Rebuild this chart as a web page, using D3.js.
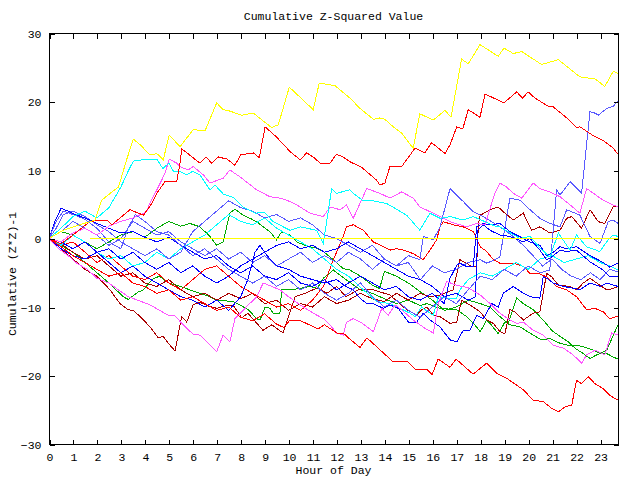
<!DOCTYPE html>
<html><head><meta charset="utf-8">
<script src="https://cdn.jsdelivr.net/npm/d3@7"></script>
<style>
body{margin:0;background:#fff}
svg{display:block}
text{font-family:"Liberation Mono","DejaVu Sans Mono",monospace;font-size:11.5px;fill:#000}
</style>
</head><body><svg id="c" width="640" height="480"></svg>
<script>
const hourTicks = [0,1,2,3,4,5,6,7,8,9,10,11,12,13,14,15,16,17,18,19,20,21,22,23];
const valueTicks = [-30,-20,-10,0,10,20,30];
const titleText = "Cumulative Z-Squared Value";
const xTitle = "Hour of Day";
const yTitle = "Cumulative (Z*Z)-1";

// each series: [hour, cumulative value]
const yellowTop = [[0,0],[0.6,1.2],[1.29,2.0],[1.92,2.7],[2.2,5.6],[2.63,6.8],[2.9,7.5],[3.24,11.5],[3.52,14.5],[3.8,13.7],[4.22,12.2],[4.5,12.4],[4.77,11.5],[5.02,15.1],[5.47,13.4],[6.02,15.9],[6.51,15.7],[7.0,19.8],[7.27,18.8],[7.55,18.6],[8.04,18.0],[8.53,18.3],[9.29,16.2],[9.57,16.6],[10.03,22.1],[11.03,18.8],[11.28,22.7],[11.94,22.3],[12.56,20.5],[12.98,19.0],[13.54,17.4],[13.81,17.6],[14.02,17.4],[14.37,16.3],[14.72,15.4],[14.93,14.4],[15.2,13.2],[15.48,18.2],[16.04,17.3],[16.53,18.7],[16.78,17.7],[17.22,26.2],[17.5,25.5],[17.99,28.3],[18.75,26.6],[18.99,27.8],[19.38,27.0],[19.73,27.3],[20.56,25.4],[21.26,26.1],[22.16,23.6],[22.79,23.3],[23.2,22.2],[23.55,24.4],[23.75,24.1]];
const redTop = [[0,0],[0.5,-0.8],[1,0.5],[1.71,2.5],[2.41,2.7],[2.62,2.0],[3.38,4.2],[3.94,3.4],[4.29,5.1],[4.5,6.6],[4.84,8.3],[5.33,8.3],[5.47,11.0],[5.54,13.1],[6.3,11.0],[6.55,11.9],[6.79,11.0],[7.07,11.9],[7.42,11.6],[7.76,10.7],[8.0,12.2],[8.53,12.5],[8.78,11.8],[9.02,16.3],[9.5,14.8],[10.06,12.7],[10.48,11.5],[10.76,12.5],[11.1,11.7],[11.31,11.0],[11.73,11.0],[12.0,12.3],[12.28,11.9],[12.56,11.2],[13.05,10.4],[13.68,8.5],[13.81,7.8],[14.02,8.1],[14.23,10.5],[14.72,10.5],[15.28,13.2],[15.69,12.5],[15.97,14.0],[16.53,12.4],[16.74,13.7],[17.02,16.3],[17.27,16.0],[17.5,18.8],[17.99,17.7],[18.2,21.1],[18.99,19.8],[19.52,21.4],[19.77,20.5],[20.0,21.4],[20.28,20.5],[20.84,19.3],[21.05,19.2],[21.61,17.6],[22.02,16.2],[22.16,16.3],[22.72,15.0],[23.13,14.3],[23.55,13.2],[23.75,12.3]];
const cyanUp = [[0,0],[0.5,1.5],[1,3.2],[1.5,4.0],[2,3.0],[2.5,4.5],[3,7.5],[3.3,9.8],[3.52,11.3],[3.9,11.5],[4.5,11.6],[4.75,10.2],[5.0,11.0],[5.2,9.8],[5.47,9.8],[5.75,9.3],[6.0,9.8],[6.3,9.3],[6.72,7.1],[6.93,7.8],[7.27,6.5],[7.7,6.0],[8.1,4.6],[8.6,3.7],[9.0,3.8],[9.36,2.45],[10.06,1.2],[10.48,1.7],[11.17,1.2],[11.45,-0.7],[11.8,7.3],[12.0,6.6],[12.56,7.1],[12.7,6.6],[13.12,5.5],[13.54,5.5],[14.1,5.1],[14.93,3.4],[15.48,1.2],[15.9,3.7],[16.32,2.95],[16.74,3.2],[17.29,2.7],[17.71,3.2],[18.69,1.7],[18.82,1.7],[19.66,0],[20.08,0.3],[20.5,-1.4],[20.91,-2.7],[21.26,0.8],[21.75,-1.7],[22.02,0.5],[22.44,-1.2],[22.99,-1.9],[23.34,-0.2],[23.55,0.5],[23.75,0.3]];
const magentaUp = [[0,0],[0.5,-0.5],[1,0.8],[1.5,1.5],[2,0.5],[2.5,1.8],[3,2.5],[3.5,3.0],[4.08,3.9],[4.2,5.1],[4.5,7.1],[4.7,8.5],[4.84,9.5],[5.02,11.6],[5.33,11.0],[5.47,10.5],[5.8,10.0],[6.02,10.5],[6.44,9.3],[6.72,8.1],[7.27,8.8],[7.55,10.0],[7.97,9.0],[8.67,7.1],[9.22,6.1],[9.64,5.9],[10.06,5.4],[10.34,4.9],[10.89,3.7],[11.45,3.2],[11.73,4.6],[12.15,4.2],[12.42,4.9],[12.7,2.95],[13.26,7.3],[13.81,6.6],[14.23,5.9],[14.72,6.8],[15.2,5.9],[15.48,4.6],[16.04,3.7],[16.74,2.45],[17.43,1.7],[17.85,2.2],[18.2,2.0],[18.61,6.6],[18.82,8.1],[19.1,7.5],[19.38,6.6],[19.73,5.9],[20.21,8.1],[20.49,7.3],[20.91,6.8],[21.33,6.1],[21.75,4.9],[22.16,3.7],[22.44,7.3],[22.72,6.6],[23.13,5.6],[23.55,4.9],[23.75,4.6]];
const slateRise = [[0,0],[0.3,2.5],[0.6,4.0],[1,3.5],[1.5,2.8],[2,1.5],[2.5,-0.5],[3,-1.5],[3.3,1.5],[3.6,3.5],[4,2.5],[4.5,1.0],[5,0.5],[5.5,-1.0],[6,-2.5],[6.5,-1.5],[7,-3.0],[7.5,-4.5],[8,-5.5],[8.5,-6.5],[9,-5.5],[9.5,-7.0],[10,-6.0],[10.5,-7.5],[11,-6.5],[11.5,-8.0],[12,-9.0],[12.5,-8.0],[13,-6.5],[13.5,-8.5],[14,-10.0],[14.5,-9.0],[15,-10.5],[15.5,-11.5],[16,-10.0],[16.5,-8.5],[17,-9.5],[17.5,-7.5],[18,-5.5],[18.5,-6.0],[19,-4.5],[19.5,-5.5],[20,-4.0],[20.5,-5.0],[20.9,-4.6],[21.19,7.1],[21.33,6.35],[21.75,8.3],[22.23,6.6],[22.58,18.5],[22.79,18.3],[22.93,18.0],[23.28,19.0],[23.55,19.3],[23.75,20.1]];
const magentaLow = [[0,0],[0.4,-1.5],[0.8,-2.5],[1.15,-3.6],[1.6,-4.5],[2.0,-5.8],[2.5,-6.5],[2.9,-7.5],[3.31,-8.5],[3.7,-9.0],[4.22,-9.7],[4.98,-11.2],[5.26,-11.3],[5.6,-12.6],[6.02,-14.0],[6.3,-14.1],[7.0,-16.5],[7.27,-14.1],[7.55,-15.1],[7.76,-11.7],[8.32,-9.7],[8.67,-8.5],[8.94,-6.5],[9.3,-7.0],[9.64,-7.5],[10.0,-8.5],[10.48,-9.7],[11.03,-10.9],[11.45,-11.7],[11.73,-12.6],[12.0,-13.8],[12.28,-14.1],[12.42,-12.2],[12.7,-11.7],[13.0,-12.2],[13.54,-13.6],[13.89,-10.2],[14.16,-11.2],[14.44,-9.7],[14.72,-10.4],[15.2,-11.9],[15.69,-13.1],[16.04,-13.8],[16.25,-9.5],[16.46,-7.5],[16.6,-6.3],[17.0,-6.8],[17.5,-7.2],[18.0,-8.25],[18.41,-9.5],[18.82,-10.9],[19.24,-11.9],[19.52,-12.4],[19.8,-12.2],[20.21,-13.4],[20.63,-14.1],[21.05,-15.6],[21.47,-16.0],[21.88,-17.0],[22.23,-18.2],[22.44,-17.0],[22.79,-16.3],[23.2,-17.0],[23.48,-13.8],[23.75,-14.1]];
const redLow = [[0,0],[0.5,-1.2],[1,-2.5],[1.5,-3.5],[2,-4.5],[2.5,-5.5],[3,-5.0],[3.5,-6.5],[4,-7.0],[4.5,-8.0],[5,-7.5],[5.5,-9.0],[6,-8.5],[6.5,-9.5],[7,-10.5],[7.5,-10.0],[8,-11.5],[8.5,-12.0],[9,-11.0],[9.5,-12.5],[9.8,-13.0],[10.06,-11.9],[10.5,-12.0],[11.23,-13.2],[11.5,-12.6],[12.02,-13.8],[12.28,-13.8],[12.56,-14.7],[12.98,-15.9],[13.27,-14.5],[14.36,-18.0],[14.98,-18.0],[15.28,-19.1],[15.78,-19.1],[15.99,-19.9],[16.24,-17.6],[16.74,-18.8],[16.99,-17.6],[17.7,-19.8],[18.27,-18.2],[18.69,-19.7],[19.1,-20.4],[19.52,-21.4],[19.8,-22.1],[20.21,-23.6],[20.63,-23.8],[20.98,-24.8],[21.26,-25.3],[21.54,-24.6],[21.82,-24.3],[22.02,-20.7],[22.23,-21.2],[22.51,-20.2],[22.79,-21.2],[23.13,-21.9],[23.41,-22.9],[23.75,-23.6]];
const darkRedLow = [[0,0],[0.5,-1.5],[1,-3.0],[1.5,-4.5],[2,-5.5],[2.55,-7.5],[2.96,-9.5],[3.31,-10.4],[3.52,-10.5],[3.8,-11.4],[4.22,-12.9],[4.56,-14.5],[4.77,-14.3],[4.98,-15.3],[5.26,-16.4],[5.54,-11.4],[5.75,-12.2],[6.01,-9.7],[6.3,-9.3],[6.6,-9.8],[7.0,-10.2],[7.27,-9.9],[7.68,-9.7],[8.05,-11.6],[8.3,-10.9],[8.93,-13.4],[9.3,-12.6],[9.77,-13.8],[10.27,-8.5],[10.7,-8.0],[11.2,-7.2],[11.6,-8.0],[12.0,-7.0],[12.4,-8.5],[12.9,-7.5],[13.54,-7.5],[14.23,-8.25],[14.93,-10.4],[15.35,-11.2],[15.55,-10.4],[15.77,-10.0],[16.04,-11.2],[16.32,-11.4],[16.74,-12.4],[17.02,-12.2],[17.22,-9.0],[17.57,-9.7],[17.99,-10.7],[18.27,-11.9],[18.55,-12.4],[18.82,-13.6],[19.03,-13.9],[19.24,-10.4],[19.45,-10.7],[19.8,-11.9],[20.21,-10.9],[20.49,-10.7],[20.77,-5.1],[20.98,-5.6],[21.26,-6.8],[21.75,-7.0],[22.02,-7.5],[22.3,-6.5],[22.58,-5.8],[22.86,-6.5],[23.28,-7.5],[23.55,-7.3],[23.75,-7.0]];
const darkRedUp = [[0,0],[0.5,-0.8],[1,-2.0],[1.5,-3.0],[2,-2.5],[2.5,-4.0],[3,-5.5],[3.5,-5.0],[4,-6.5],[4.5,-7.0],[5,-6.0],[5.5,-7.5],[6,-8.5],[6.5,-8.0],[7,-9.0],[7.5,-8.0],[8,-8.8],[8.5,-8.0],[9,-9.5],[9.5,-9.0],[10,-10.5],[10.5,-9.5],[11,-10.0],[11.5,-8.5],[12,-9.5],[12.5,-9.0],[13,-8.0],[13.5,-8.8],[14,-9.2],[14.5,-8.0],[15,-9.0],[15.5,-8.0],[15.9,-8.5],[16.32,-8.25],[16.87,-7.5],[17.15,-3.1],[17.43,-3.6],[17.64,-4.1],[17.85,-4.1],[17.92,2.0],[18.0,3.4],[18.41,4.2],[18.75,4.6],[18.96,3.9],[19.38,2.7],[19.8,3.7],[20.14,1.2],[20.49,1.7],[20.91,0.8],[21.33,1.2],[21.61,2.95],[21.82,3.2],[22.23,1.5],[22.58,4.2],[22.93,2.45],[23.2,2.2],[23.55,4.6],[23.75,4.6]];
const redMid = [[0,0],[0.5,-1.0],[1,-0.5],[1.5,-2.0],[2,-3.5],[2.5,-2.5],[3,-4.0],[3.5,-5.5],[4,-6.0],[4.5,-5.0],[5,-6.5],[5.5,-7.5],[6,-6.0],[6.5,-4.5],[7,-4.0],[7.5,-5.5],[8,-7.0],[8.5,-8.0],[9,-9.0],[9.5,-10.0],[10,-9.5],[10.5,-10.5],[11,-9.0],[11.45,-7.0],[11.87,-3.1],[12.28,0.3],[12.42,1.7],[12.7,2.0],[13.12,1.2],[13.54,-0.5],[13.95,-1.2],[14.23,-1.7],[14.51,-1.5],[14.79,-1.7],[15.2,-2.2],[15.62,-3.1],[15.9,-1.7],[16.18,-0.2],[16.32,1.7],[16.46,2.45],[16.87,2.0],[17.29,1.7],[17.71,1.0],[18.0,-1.2],[18.27,-1.9],[18.55,-3.1],[18.82,-3.6],[19.38,-3.6],[19.8,-4.1],[20.08,-5.1],[20.42,-5.1],[20.77,-5.6],[21.19,-7.0],[21.61,-7.5],[22.02,-8.5],[22.44,-10.4],[22.79,-10.2],[23.13,-10.7],[23.41,-11.7],[23.75,-11.3]];
const greenA = [[0,0],[0.5,1.0],[1,0.5],[1.5,-0.5],[2,-1.5],[2.5,-0.5],[3,0.5],[3.5,1.0],[4,0.2],[4.5,1.5],[5,2.5],[5.5,1.8],[5.88,2.2],[6.3,1.7],[6.72,0.3],[7.0,-1.0],[7.27,-0.5],[7.55,3.7],[7.76,4.3],[8.11,3.4],[8.39,2.95],[8.67,2.45],[8.94,1.7],[9.22,1.0],[9.5,-0.2],[9.71,1.0],[10.06,0.5],[10.34,-0.5],[10.61,-0.9],[10.89,-1.2],[11.17,-1.4],[11.45,-1.9],[11.87,-3.1],[12.28,-4.4],[12.56,-4.6],[13.0,-5.5],[13.5,-6.8],[13.8,-7.3],[14.0,-4.8],[14.5,-5.5],[15.0,-6.5],[15.5,-7.8],[16.0,-9.0],[16.5,-10.5],[17.0,-10.0],[17.5,-9.0],[18.0,-9.5],[18.41,-10.0],[18.75,-11.2],[19.17,-12.4],[19.52,-8.7],[19.8,-9.5],[20.21,-10.4],[20.63,-11.9],[20.98,-13.4],[21.33,-14.3],[21.68,-15.1],[21.95,-16.0],[22.3,-16.8],[22.58,-17.5],[22.86,-17.0],[23.28,-16.3],[23.75,-12.6]];
const greenB = [[0,0],[0.5,-1.0],[1,-2.0],[1.5,-3.5],[2,-5.0],[2.5,-6.5],[3.1,-8.5],[3.31,-8.9],[3.73,-7.8],[3.94,-7.5],[4.3,-6.0],[4.6,-5.5],[5.0,-6.5],[5.5,-7.0],[5.88,-7.5],[6.72,-8.5],[7.0,-9.0],[7.69,-9.2],[7.97,-9.7],[8.32,-10.4],[8.67,-11.7],[8.81,-11.9],[9.02,-10.0],[9.22,-10.2],[9.36,-10.9],[9.64,-10.9],[9.71,-7.5],[10.06,-7.5],[10.48,-7.3],[10.89,-7.0],[11.2,-7.3],[11.45,-5.8],[11.87,-4.6],[12.2,-5.5],[12.6,-6.5],[13.0,-7.5],[13.5,-8.0],[14.0,-8.8],[14.5,-9.5],[15.0,-9.0],[15.5,-9.8],[15.77,-9.5],[16.32,-10.2],[17.02,-10.4],[17.43,-11.4],[17.75,-12.5],[18.0,-13.6],[18.27,-11.9],[18.41,-12.4],[18.75,-13.9],[19.03,-12.2],[19.24,-12.6],[19.66,-12.9],[20.21,-14.1],[20.56,-14.8],[20.91,-14.6],[21.33,-15.3],[21.68,-15.6],[22.02,-15.6],[22.3,-15.8],[22.72,-16.3],[23.0,-16.8],[23.28,-16.8],[23.55,-17.3],[23.75,-17.6]];
const blueA = [[0,0],[0.25,2.5],[0.5,4.4],[0.8,4.0],[1.1,3.5],[1.5,3.0],[2.0,2.2],[2.5,1.5],[3.0,0.8],[3.5,1.0],[4.0,0.2],[4.5,-0.5],[5.0,0.2],[5.5,-1.0],[6.0,-2.0],[6.5,-3.0],[7.0,-2.5],[7.5,-4.0],[8.0,-5.0],[8.5,-4.0],[9.0,-5.5],[9.5,-6.0],[10.0,-5.0],[10.5,-6.5],[11.0,-7.0],[11.5,-6.0],[12.0,-7.5],[12.5,-6.5],[13.0,-5.5],[13.5,-6.5],[14.0,-7.5],[14.5,-7.0],[15.0,-8.5],[15.5,-9.0],[16.0,-8.0],[16.5,-9.5],[16.74,-5.8],[17.02,-3.9],[17.15,-3.6],[17.43,-4.1],[17.71,-4.1],[17.85,1.7],[18.13,2.2],[18.41,2.0],[18.82,2.2],[19.24,1.0],[19.8,0.0],[20.08,-0.5],[20.49,-1.0],[20.77,-2.5],[20.98,-2.2],[21.33,-1.2],[21.61,-1.5],[22.02,-1.2],[22.58,-2.5],[23.13,-3.5],[23.41,-4.2],[23.75,-3.6]];
const blueB = [[0,0],[0.5,-0.5],[1,-1.5],[1.5,-0.5],[2,-2.0],[2.5,-1.5],[3,-3.0],[3.5,-2.0],[4,-3.5],[4.5,-4.5],[5,-3.5],[5.5,-5.0],[6,-4.0],[6.5,-5.5],[7,-6.5],[7.5,-5.5],[8,-4.0],[8.5,-3.0],[9,-2.0],[9.5,-1.0],[10,-0.5],[10.5,-1.5],[11,-1.0],[11.5,-2.0],[12,-1.5],[12.5,-0.5],[13,-1.5],[13.5,-2.5],[14,-3.5],[14.5,-4.5],[15,-5.5],[15.5,-6.0],[16,-7.0],[16.5,-8.5],[17,-8.0],[17.5,-9.0],[17.8,-8.5],[17.9,1.2],[18.13,2.0],[18.41,1.2],[18.82,0.5],[19.24,0.3],[19.8,-0.5],[20.08,0.0],[20.49,-1.7],[20.77,-3.1],[20.98,-2.7],[21.33,-1.7],[21.61,-1.9],[22.02,-1.7],[22.58,-3.4],[23.13,-4.6],[23.41,-5.6],[23.75,-5.6]];
const blueC = [[0,0],[0.5,-1.5],[1,-2.5],[1.5,-3.0],[2,-2.0],[2.5,-3.5],[3.0,-5.0],[3.5,-4.0],[4.0,-5.5],[4.5,-6.5],[5.0,-7.5],[5.5,-8.5],[6.0,-9.0],[6.5,-10.0],[7.0,-9.0],[7.5,-10.5],[8.0,-8.5],[8.3,-6.0],[8.6,-2.0],[8.8,-1.0],[9.1,-2.5],[9.5,-4.0],[10.0,-4.5],[10.5,-5.5],[11.0,-6.0],[11.5,-6.5],[12.0,-6.0],[12.4,-7.0],[12.7,-7.5],[12.98,-8.7],[13.26,-9.5],[13.54,-9.5],[13.95,-10.2],[14.23,-9.7],[14.58,-10.2],[14.79,-11.2],[15.0,-12.2],[15.35,-12.2],[15.62,-10.9],[15.9,-11.9],[16.32,-12.9],[16.74,-14.8],[17.02,-15.1],[17.29,-13.4],[17.57,-13.4],[17.85,-11.2],[18.13,-11.7],[18.48,-9.5],[18.75,-10.0],[18.96,-8.0],[19.38,-7.0],[19.8,-8.0],[20.08,-8.5],[20.49,-8.7],[20.63,-5.6],[20.77,-5.8],[21.05,-6.5],[21.47,-7.0],[21.95,-7.3],[22.16,-7.5],[22.58,-6.5],[23.0,-7.0],[23.28,-6.5],[23.75,-7.0]];
const slateB = [[0,0],[0.3,1.5],[0.6,3.5],[1,4.0],[1.5,3.2],[2,2.0],[2.5,1.0],[3,-0.5],[3.5,-1.5],[4,-2.5],[4.5,-1.5],[5,-3.0],[5.5,-2.0],[6,1.0],[6.5,2.5],[7,4.0],[7.5,5.5],[8,4.5],[8.5,4.0],[9,3.0],[9.5,3.5],[10,2.5],[10.5,3.0],[11,2.0],[11.5,0.5],[12,0.0],[12.5,-1.0],[13,-2.0],[13.5,-1.0],[14,-3.0],[14.5,-4.0],[15,-3.5],[15.2,-4.5],[15.5,-6.0],[16,-4.0],[16.5,-5.0],[17,-4.5],[17.5,-3.5],[18.0,-3.1],[18.27,-3.6],[18.61,-3.1],[18.82,-2.7],[19.24,5.9],[19.66,5.6],[20.08,4.2],[20.49,2.95],[20.91,2.2],[21.33,1.7],[21.61,4.2],[22.16,3.4],[22.58,0.3],[23.0,-0.7],[23.34,2.45],[23.55,2.7],[23.75,2.2]];
const slateC = [[0,0],[0.5,1.0],[1,2.5],[1.5,1.5],[2,0.5],[2.5,-1.0],[3,0.0],[3.5,2.5],[4,1.5],[4.5,0.5],[5,1.0],[5.5,-0.5],[6,-1.5],[6.5,-2.5],[7,-1.5],[7.5,-3.0],[8,-2.0],[8.5,-3.5],[9,-2.5],[9.5,-4.0],[10,-3.0],[10.5,-2.0],[11,-3.5],[11.5,-2.5],[12,-3.5],[12.5,-2.0],[13,-3.0],[13.5,-4.5],[14,-3.0],[14.5,-4.0],[15,-2.5],[15.48,-3.1],[15.62,0.3],[16.04,-0.2],[16.32,1.7],[16.74,7.3],[17.29,5.4],[17.71,3.9],[18.13,3.2],[18.82,1.7],[19.3,0.5],[19.8,-1.0],[20.2,-2.5],[20.6,-4.0],[21.0,-3.0],[21.4,-4.5],[21.8,-5.5],[22.2,-6.0],[22.6,-5.0],[23.0,-6.0],[23.4,-4.5],[23.75,-4.9]];
const cyanLow = [[0,0],[0.5,-1.0],[1,0.5],[1.5,-0.5],[2,-2.0],[2.5,-3.0],[3,-2.5],[3.5,-4.0],[4,-3.5],[4.5,-2.0],[5,-3.0],[5.5,-1.5],[6,-0.5],[6.5,0.5],[7,2.0],[7.5,3.5],[8,2.5],[8.5,2.0],[9,3.0],[9.5,1.5],[10,0.5],[10.5,-0.5],[11,-1.5],[11.5,-3.0],[12,-4.5],[12.5,-5.5],[13.12,-7.5],[13.68,-9.2],[14.23,-9.5],[14.65,-10.2],[15.07,-10.9],[15.28,-11.4],[15.55,-10.0],[15.9,-10.9],[16.04,-11.2],[16.25,-8.5],[16.6,-8.7],[17.02,-8.7],[17.15,-7.5],[17.5,-6.0],[18,-5.0],[18.5,-5.5],[19,-4.5],[19.5,-3.5],[20,-4.5],[20.5,-3.0],[21,-2.5],[21.5,-3.5],[22,-3.0],[22.5,-2.5],[23,-3.5],[23.4,-4.0],[23.75,-4.6]];
const yellowFlat = [[1.7,0],[23.75,0]];

const seriesList = [greenA, greenB, darkRedUp, darkRedLow, redMid, cyanLow, slateC, slateB, blueB, blueC, blueA, magentaLow, redLow, slateRise, magentaUp, cyanUp, redTop, yellowTop, yellowFlat];
const seriesColors = ["#00aa00","#00aa00","#aa0000","#aa0000","#ff0000","#00ffff","#5a5aff","#5a5aff","#0000ff","#0000ff","#0000ff","#ff55ff","#ff0000","#5a5aff","#ff55ff","#00ffff","#ff0000","#ffff00","#ffff00"];

const svg = d3.select("#c");
const L = 49, R = 618, T = 33, B = 444;
const x = d3.scaleLinear().domain([0, 23.75]).range([L, R]);
const y = d3.scaleLinear().domain([-30, 30]).range([B, T]);

svg.append("rect").attr("width",640).attr("height",480).attr("fill","#fff");

const line = d3.line().x(d => x(d[0])).y(d => y(d[1]));
svg.append("g").selectAll("path").data(seriesList).join("path")
  .attr("d", line).attr("fill","none")
  .attr("stroke",(d,i)=>seriesColors[i]).attr("stroke-width",1)
  .attr("shape-rendering","crispEdges");

// frame and axes
svg.append("rect").attr("x",L+0.5).attr("y",T+0.5).attr("width",R-L).attr("height",B-T)
  .attr("fill","none").attr("stroke","#000").attr("stroke-width",1).attr("shape-rendering","crispEdges");

function styleAxis(g){ g.select(".domain").remove(); g.selectAll("line").attr("stroke","#000").attr("shape-rendering","crispEdges"); g.selectAll("text").attr("font-family",null).attr("font-size",null); }

svg.append("g").attr("transform",`translate(0.5,${B+0.5})`)
  .call(d3.axisBottom(x).tickValues(hourTicks).tickFormat(d3.format("d")).tickSize(-5).tickPadding(8)).call(styleAxis);
svg.append("g").attr("transform",`translate(0.5,${T+0.5})`)
  .call(d3.axisTop(x).tickValues(hourTicks).tickFormat("").tickSize(-5)).call(styleAxis);
svg.append("g").attr("transform",`translate(${L+0.5},0.5)`)
  .call(d3.axisLeft(y).tickValues(valueTicks).tickFormat(d3.format("d")).tickSize(-5).tickPadding(8)).call(styleAxis);
svg.append("g").attr("transform",`translate(${R+0.5},0.5)`)
  .call(d3.axisRight(y).tickValues(valueTicks).tickFormat("").tickSize(-5)).call(styleAxis);

svg.append("text").attr("x",(L+R)/2).attr("y",20).attr("text-anchor","middle").text(titleText);
svg.append("text").attr("x",(L+R)/2).attr("y",474).attr("text-anchor","middle").text(xTitle);
svg.append("text").attr("transform",`translate(16,274) rotate(-90)`).attr("text-anchor","middle").text(yTitle);
</script>
</body></html>
